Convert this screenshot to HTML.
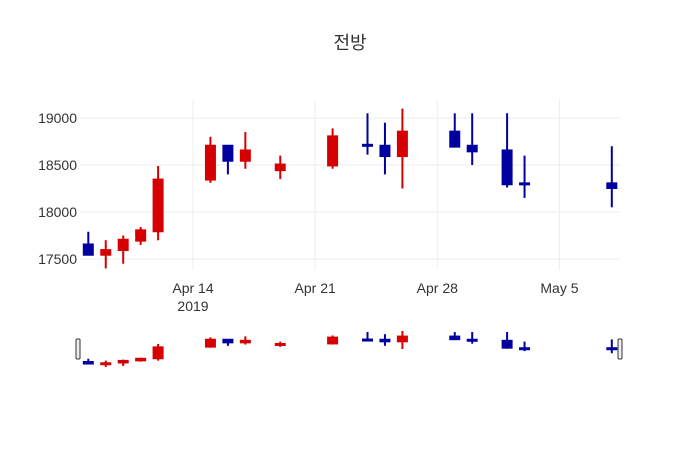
<!DOCTYPE html>
<html><head><meta charset="utf-8"><style>
body{margin:0;background:#fff;}
svg text{font-family:"Liberation Sans","Noto Sans CJK KR",sans-serif;fill:#333;}
</style></head><body>
<svg id="c" width="700" height="450">
<text x="350" y="49" text-anchor="middle" font-size="18">전방</text>
<g id="grid"></g><g id="main"></g><g id="slider"></g>
</svg>
<script>
const dates=["2019-04-08","2019-04-09","2019-04-10","2019-04-11","2019-04-12","2019-04-15","2019-04-16","2019-04-17","2019-04-19","2019-04-22","2019-04-24","2019-04-25","2019-04-26","2019-04-29","2019-04-30","2019-05-02","2019-05-03","2019-05-08"];
const opens=[17660,17540,17590,17690,17790,18340,18710,18540,18440,18490,18720,18710,18590,18860,18710,18660,18310,18310];
const highs=[17790,17700,17750,17840,18490,18800,18710,18850,18600,18890,19050,18950,19100,19050,19050,19050,18600,18700];
const lows=[17540,17400,17450,17650,17700,18310,18400,18460,18350,18460,18610,18400,18250,18690,18500,18260,18150,18050];
const closes=[17540,17600,17710,17810,18350,18710,18540,18660,18510,18810,18700,18590,18860,18690,18640,18290,18290,18250];
const yTicks=[17500,18000,18500,19000];
const xTicks=["2019-04-14","2019-04-21","2019-04-28","2019-05-05"];
const xTickLabels=["Apr 14","Apr 21","Apr 28","May 5"];
const NS="http://www.w3.org/2000/svg";
const day=d=>Date.parse(d)/86400000;
const x0=day("2019-04-14"),px=17.45;
const X=d=>193+(day(d)-x0)*px;
const Y=v=>259-(v-17500)*0.094;
const SY=v=>367-(v-17400)*(36/1700);
function el(p,t,a){const e=document.createElementNS(NS,t);for(const k in a)e.setAttribute(k,a[k]);p.appendChild(e);return e;}
const grid=document.getElementById('grid'),main=document.getElementById('main'),sl=document.getElementById('slider');
yTicks.forEach(v=>{
 const l=el(grid,'line',{x1:80,x2:620,y1:Y(v),y2:Y(v),stroke:'#eee'});
 
 const t=el(grid,'text',{x:77,y:Y(v)+5,'text-anchor':'end','font-size':14});
 
 t.textContent=v;
});
xTicks.forEach((d,i)=>{
 const l=el(grid,'line',{x1:X(d),x2:X(d),y1:100,y2:270,stroke:'#eee'});
 
 const t=el(grid,'text',{x:X(d),y:293,'text-anchor':'middle','font-size':14});
 
 t.textContent=xTickLabels[i];
 if(i==0){const t2=el(grid,'text',{x:X(d),y:311,'text-anchor':'middle','font-size':14});
 t2.textContent="2019";}
});
function candles(g,Yf,bw,ww){
 dates.forEach((d,i)=>{
  const up=closes[i]>=opens[i],c=up?'#d60000':'#0000a0';
  const x=X(d);
  const w=el(g,'line',{x1:x,x2:x,y1:Yf(highs[i]),y2:Yf(lows[i]),stroke:c,'stroke-width':ww});
  
  const t=Yf(Math.max(opens[i],closes[i])),b=Yf(Math.min(opens[i],closes[i]));
  const r=el(g,'rect',{x:x-bw/2,y:t,width:bw,height:Math.max(b-t,2),fill:c,stroke:c,'stroke-width':1});
  
 });
}
candles(main,Y,10,2);
const bg=el(sl,'rect',{x:80,y:329,width:540,height:40,fill:'#fff'});

candles(sl,SY,10,2);
[78,620].forEach(x=>{const h=el(sl,'rect',{x:x-2,y:339,width:4,height:20,rx:1,fill:'#eee',stroke:'#333','stroke-width':1});
});
</script>
</body></html>
